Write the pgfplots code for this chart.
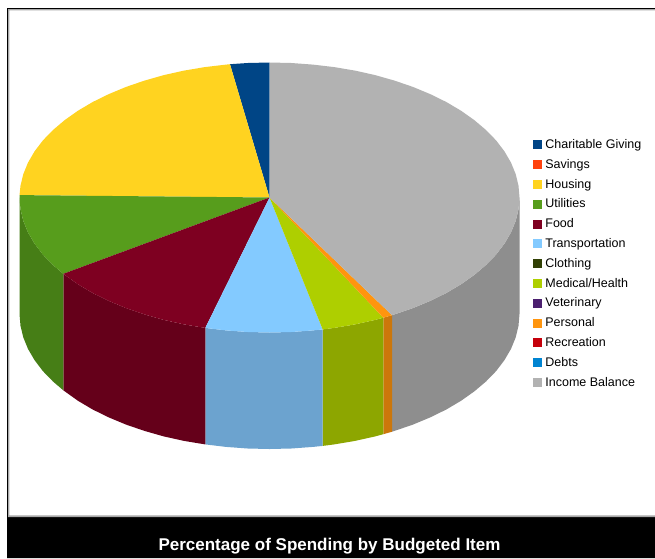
\documentclass[border=0pt]{standalone}
\usepackage{pgfplots}
\usepackage{fontspec}
\setmainfont{Liberation Sans}
\pgfplotsset{compat=1.18}

% LibreOffice chart palette: top faces and their darker side walls
\definecolor{cNavy}{HTML}{004586}
\definecolor{cSavings}{HTML}{FF420E}
\definecolor{cYellow}{HTML}{FFD320}
\definecolor{cGreen}{HTML}{579D1C}
\definecolor{cFood}{HTML}{7E0021}
\definecolor{cSky}{HTML}{83CAFF}
\definecolor{cCloth}{HTML}{314004}
\definecolor{cLime}{HTML}{AECF00}
\definecolor{cVet}{HTML}{4B1F6F}
\definecolor{cOrange}{HTML}{FF950E}
\definecolor{cRecr}{HTML}{C5000B}
\definecolor{cDebts}{HTML}{0084D1}
\definecolor{cGrey}{HTML}{B2B2B2}
\definecolor{wGreen}{HTML}{467E16}
\definecolor{wFood}{HTML}{65001A}
\definecolor{wSky}{HTML}{6CA3CF}
\definecolor{wLime}{HTML}{8DA600}
\definecolor{wOrange}{HTML}{CC770B}
\definecolor{wGrey}{HTML}{8E8E8E}
\definecolor{cEdge}{HTML}{A8A8A8}

\begin{document}
\begin{tikzpicture}
\begin{axis}[
  width=655pt, height=558pt, scale only axis,
  xmin=0, xmax=655, ymin=0, ymax=558, y dir=reverse,
  hide axis,
  legend image code/.code={\fill[#1] (0pt,-4.5pt) rectangle (9pt,4.5pt);},
  legend cell align=left,
  legend style={
    at={(axis cs:533,137.5)}, anchor=north west,
    draw=none, fill=none, inner sep=0pt, outer sep=0pt,
    font=\fontsize{12.5}{14}\selectfont,
    row sep=5.2pt,
    nodes={inner xsep=3.4pt, inner ysep=0pt, minimum height=14.6pt},
  },
]
% page frame and title band
\addplot[fill=white, draw=none, forget plot] coordinates {(0,0) (655,0) (655,558) (0,558)} -- cycle;
\addplot[fill=black, draw=none, forget plot] coordinates {(7,8) (655,8) (655,9.2) (8.2,9.2) (8.2,517) (655,517) (655,558) (7,558)} -- cycle;
\addplot[fill=cEdge, draw=none, forget plot] coordinates {(8.2,9.2) (655,9.2) (655,10.4) (9.4,10.4) (9.4,515.4) (655,515.4) (655,517) (8.2,517)} -- cycle;

% side walls
\addplot[fill=wGrey, draw=none, forget plot] coordinates {
  (519.5,197.5) (518.5,209.3) (515.7,220.9) (511,232.4) (504.4,243.7) (496.1,254.6) (486,265)
  (474.3,274.9) (461,284.3) (446.3,293) (430.2,300.9) (412.9,308.1) (394.5,314.4) (392,315.2)
  (392,431.7) (394.5,430.9) (412.9,424.6) (430.2,417.4) (446.3,409.5) (461,400.8) (474.3,391.4)
  (486,381.5) (496.1,371.1) (504.4,360.2) (511,348.9) (515.7,337.4) (518.5,325.8) (519.5,314)} -- cycle;
\addplot[fill=wOrange, draw=none, forget plot] coordinates {
  (392,315.2) (383.3,317.7) (383.3,434.2) (392,431.7)} -- cycle;
\addplot[fill=wLime, draw=none, forget plot] coordinates {
  (383.3,317.7) (375.2,319.9) (355,324.4) (334.2,327.9) (322.7,329.4)
  (322.7,445.9) (334.2,444.4) (355,440.9) (375.2,436.4) (383.3,434.2)} -- cycle;
\addplot[fill=wSky, draw=none, forget plot] coordinates {
  (322.7,329.4) (312.9,330.4) (291.3,332) (269.5,332.5) (247.7,332) (226.1,330.4) (205.3,327.9)
  (205.3,444.4) (226.1,446.9) (247.7,448.5) (269.5,449) (291.3,448.5) (312.9,446.9) (322.7,445.9)} -- cycle;
\addplot[fill=wFood, draw=none, forget plot] coordinates {
  (205.3,327.9) (184,324.4) (163.8,319.9) (144.5,314.4) (126.1,308.1) (108.8,300.9) (92.7,293) (78,284.3) (63.3,273.8)
  (63.3,390.3) (78,400.8) (92.7,409.5) (108.8,417.4) (126.1,424.6) (144.5,430.9) (163.8,436.4) (184,440.9) (205.3,444.4)} -- cycle;
\addplot[fill=wGreen, draw=none, forget plot] coordinates {
  (63.3,273.8) (53,265) (42.9,254.6) (34.6,243.7) (28,232.4) (23.3,220.9) (20.5,209.3) (19.5,197.5)
  (19.5,314) (20.5,325.8) (23.3,337.4) (28,348.9) (34.6,360.2) (42.9,371.1) (53,381.5) (63.3,390.3)} -- cycle;

% top faces, in budget order
\addplot[fill=cNavy, draw=none] coordinates {
  (269.5,197.5) (230,64.2) (247.7,63) (269.5,62.5)} -- cycle;
\addlegendentry{Charitable Giving}
\addlegendimage{fill=cSavings, draw=none}
\addlegendentry{Savings}
\addplot[fill=cYellow, draw=none] coordinates {
  (269.5,197.5) (19.5,195.1) (20.5,185.7) (23.3,174.1) (28,162.6) (34.6,151.3) (42.9,140.4) (53,130) (64.7,120.1)
  (78,110.7) (92.7,102) (108.8,94.1) (126.1,86.9) (144.5,80.6) (163.8,75.1) (184,70.6) (204.8,67.1) (226.1,64.6) (230,64.2)} -- cycle;
\addlegendentry{Housing}
\addplot[fill=cGreen, draw=none] coordinates {
  (269.5,197.5) (63.3,273.8) (53,265) (42.9,254.6) (34.6,243.7) (28,232.4) (23.3,220.9) (20.5,209.3) (19.5,197.5) (19.5,195.1)} -- cycle;
\addlegendentry{Utilities}
\addplot[fill=cFood, draw=none] coordinates {
  (269.5,197.5) (205.3,327.9) (184,324.4) (163.8,319.9) (144.5,314.4) (126.1,308.1) (108.8,300.9) (92.7,293) (78,284.3) (63.3,273.8)} -- cycle;
\addlegendentry{Food}
\addplot[fill=cSky, draw=none] coordinates {
  (269.5,197.5) (322.7,329.4) (312.9,330.4) (291.3,332) (269.5,332.5) (247.7,332) (226.1,330.4) (205.3,327.9)} -- cycle;
\addlegendentry{Transportation}
\addlegendimage{fill=cCloth, draw=none}
\addlegendentry{Clothing}
\addplot[fill=cLime, draw=none] coordinates {
  (269.5,197.5) (383.3,317.7) (375.2,319.9) (355,324.4) (334.2,327.9) (322.7,329.4)} -- cycle;
\addlegendentry{Medical/Health}
\addlegendimage{fill=cVet, draw=none}
\addlegendentry{Veterinary}
\addplot[fill=cOrange, draw=none] coordinates {
  (269.5,197.5) (392,315.2) (383.3,317.7)} -- cycle;
\addlegendentry{Personal}
\addlegendimage{fill=cRecr, draw=none}
\addlegendentry{Recreation}
\addlegendimage{fill=cDebts, draw=none}
\addlegendentry{Debts}
\addplot[fill=cGrey, draw=none] coordinates {
  (269.5,197.5) (269.5,62.5) (291.3,63) (312.9,64.6) (334.2,67.1) (355,70.6) (375.2,75.1) (394.5,80.6) (412.9,86.9)
  (430.2,94.1) (446.3,102) (461,110.7) (474.3,120.1) (486,130) (496.1,140.4) (504.4,151.3) (511,162.6) (515.7,174.1)
  (518.5,185.7) (519.5,197.5) (518.5,209.3) (515.7,220.9) (511,232.4) (504.4,243.7) (496.1,254.6) (486,265) (474.3,274.9)
  (461,284.3) (446.3,293) (430.2,300.9) (412.9,308.1) (394.5,314.4) (392,315.2)} -- cycle;
\addlegendentry{Income Balance}

\node[text=white, font=\bfseries\fontsize{17}{20}\selectfont, anchor=center] at (axis cs:329.5,546.5) {Percentage of Spending by Budgeted Item};
\end{axis}
\end{tikzpicture}
\end{document}
